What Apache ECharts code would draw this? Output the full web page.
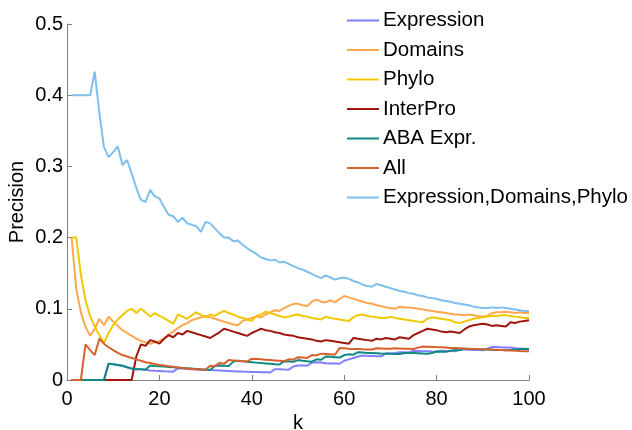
<!DOCTYPE html>
<html>
<head>
<meta charset="utf-8">
<script src="https://cdn.jsdelivr.net/npm/echarts@6/dist/echarts.min.js"></script>
<style>
html,body{margin:0;padding:0;background:#fff;}
#chart{width:632px;height:430px;}
</style>
</head>
<body>
<div id="chart"></div>
<script>
const seriesNames = ['Expression', 'Domains', 'Phylo', 'InterPro', 'ABA Expr.', 'All', 'Expression,Domains,Phylo'];
const xTicks = [0, 20, 40, 60, 80, 100];
const yTicks = [0, 0.1, 0.2, 0.3, 0.4, 0.5];

const expression = [
0,0,0,0,0,0,0,0,0.023,0.022,0.021,0.02,0.018,0.016,0.015,0.015,0.0144,0.0135,0.013,0.0127,
0.0123,0.012,0.0117,0.0165,0.016,0.0156,0.0152,0.0148,0.0145,0.0142,0.0139,0.0136,0.0133,0.013,0.0127,0.0124,0.0121,0.0118,0.0116,0.0114,
0.0112,0.011,0.0108,0.0106,0.0152,0.015,0.0147,0.0145,0.019,0.0205,0.0203,0.02,0.0245,0.025,0.0247,0.0235,0.0232,0.023,0.0228,0.027,
0.029,0.031,0.033,0.0345,0.034,0.0338,0.0335,0.0333,0.0375,0.0372,0.038,0.039,0.0388,0.0386,0.041,0.0408,0.0405,0.0403,0.04,0.0398,
0.041,0.0408,0.0406,0.0404,0.043,0.0428,0.0425,0.0423,0.042,0.0418,0.044,0.0465,0.0463,0.046,0.0458,0.0456,0.0445,0.0443,0.044,0.0435
];
const domains = [
0.2,0.128,0.095,0.075,0.062,0.072,0.086,0.077,0.089,0.082,0.076,0.07,0.066,0.062,0.058,0.055,0.053,0.051,0.053,0.055,
0.058,0.064,0.068,0.073,0.077,0.08,0.084,0.086,0.088,0.09,0.088,0.086,0.084,0.082,0.08,0.078,0.077,0.083,0.085,0.087,
0.089,0.088,0.092,0.095,0.098,0.097,0.101,0.104,0.107,0.107,0.105,0.104,0.11,0.113,0.11,0.109,0.112,0.109,0.114,0.118,
0.116,0.114,0.112,0.11,0.108,0.107,0.105,0.104,0.102,0.101,0.1,0.103,0.102,0.102,0.101,0.1,0.099,0.098,0.097,0.096,
0.095,0.094,0.093,0.092,0.092,0.091,0.092,0.091,0.09,0.089,0.09,0.094,0.095,0.095,0.096,0.095,0.094,0.095,0.094,0.094
];
const phylo = [
0.2,0.2,0.148,0.112,0.09,0.075,0.063,0.052,0.066,0.077,0.085,0.091,0.097,0.1,0.094,0.1,0.095,0.089,0.094,0.09,
0.087,0.083,0.079,0.092,0.089,0.086,0.091,0.095,0.091,0.088,0.092,0.09,0.094,0.097,0.094,0.092,0.089,0.087,0.085,0.083,
0.09,0.092,0.096,0.094,0.092,0.09,0.088,0.089,0.091,0.092,0.09,0.089,0.087,0.086,0.085,0.089,0.087,0.086,0.085,0.084,
0.083,0.088,0.091,0.092,0.09,0.089,0.088,0.087,0.087,0.089,0.087,0.086,0.085,0.084,0.083,0.082,0.081,0.086,0.088,0.087,
0.086,0.085,0.084,0.081,0.08,0.082,0.084,0.086,0.087,0.088,0.089,0.09,0.09,0.091,0.091,0.09,0.089,0.088,0.087,0.087
];
const interPro = [
0,0,0,0,0,0,0,0,0,0,0,0,0,0,0.033,0.05,0.048,0.056,0.054,0.051,
0.058,0.063,0.06,0.066,0.064,0.069,0.067,0.065,0.063,0.061,0.059,0.063,0.067,0.072,0.07,0.068,0.066,0.064,0.062,0.066,
0.069,0.072,0.07,0.069,0.067,0.066,0.064,0.063,0.062,0.06,0.059,0.058,0.057,0.055,0.054,0.056,0.055,0.054,0.053,0.052,
0.051,0.059,0.058,0.057,0.056,0.055,0.058,0.057,0.059,0.058,0.057,0.06,0.059,0.058,0.063,0.066,0.069,0.072,0.071,0.07,
0.068,0.067,0.068,0.067,0.066,0.071,0.075,0.077,0.078,0.079,0.078,0.076,0.077,0.076,0.075,0.081,0.08,0.082,0.083,0.084
];
const abaExpr = [
0,0,0,0,0,0,0,0,0.023,0.022,0.021,0.02,0.018,0.016,0.015,0.015,0.0144,0.0204,0.0198,0.0193,
0.0188,0.0183,0.0178,0.0174,0.017,0.0166,0.016,0.0155,0.015,0.0146,0.0142,0.02,0.0205,0.02,0.0195,0.0258,0.027,0.0262,0.0255,0.025,
0.0244,0.0238,0.0233,0.0228,0.0222,0.0218,0.0265,0.026,0.0255,0.028,0.027,0.0262,0.0257,0.029,0.0285,0.033,0.0325,0.032,0.0315,0.035,
0.036,0.0355,0.039,0.0385,0.038,0.0378,0.0375,0.0372,0.037,0.0368,0.0366,0.0365,0.038,0.038,0.0378,0.0375,0.0372,0.037,0.038,0.04,
0.0398,0.0395,0.041,0.042,0.0418,0.044,0.0437,0.0435,0.0432,0.043,0.0428,0.0425,0.0423,0.042,0.0418,0.0423,0.043,0.0433,0.0434,0.0435
];
const allFeat = [
0,0,0,0.05,0.042,0.035,0.058,0.051,0.046,0.042,0.038,0.035,0.033,0.031,0.029,0.027,0.025,0.024,0.0225,0.021,
0.0204,0.0195,0.0185,0.0177,0.017,0.0163,0.0157,0.0152,0.0148,0.0145,0.02,0.019,0.024,0.023,0.028,0.0275,0.027,0.0265,0.026,0.03,
0.0295,0.029,0.0285,0.028,0.0275,0.027,0.0265,0.029,0.0285,0.032,0.0315,0.031,0.035,0.0345,0.037,0.0365,0.036,0.0355,0.045,0.0445,
0.044,0.0437,0.0435,0.0432,0.043,0.0428,0.0445,0.0443,0.044,0.0438,0.0445,0.0443,0.044,0.0438,0.0436,0.0455,0.047,0.0468,0.0465,0.0462,
0.046,0.0455,0.045,0.0448,0.0445,0.0442,0.044,0.0437,0.0434,0.0432,0.043,0.0427,0.0424,0.0421,0.0418,0.0413,0.041,0.0407,0.0405,0.0405
];
const exprDomPhylo = [
0.4,0.4,0.4,0.4,0.4,0.433,0.375,0.327,0.313,0.32,0.328,0.302,0.309,0.29,0.27,0.253,0.25,0.267,0.258,0.255,
0.243,0.232,0.23,0.222,0.228,0.22,0.218,0.216,0.208,0.222,0.22,0.213,0.206,0.2,0.2,0.195,0.196,0.19,0.185,0.181,
0.177,0.172,0.17,0.168,0.169,0.165,0.166,0.163,0.16,0.157,0.155,0.152,0.149,0.146,0.143,0.147,0.144,0.141,0.143,0.144,
0.142,0.139,0.137,0.134,0.132,0.131,0.135,0.133,0.131,0.129,0.127,0.125,0.124,0.122,0.121,0.119,0.118,0.116,0.115,0.114,
0.112,0.111,0.11,0.108,0.107,0.106,0.105,0.103,0.102,0.101,0.101,0.102,0.101,0.102,0.101,0.1,0.099,0.098,0.097,0.097
];

const seriesValues = [expression, domains, phylo, interPro, abaExpr, allFeat, exprDomPhylo];
const colors = ['#8080ff', '#ffa650', '#f0c800', '#a0160e', '#0c8a82', '#d8602c', '#7fbfee'];

const font = 'Liberation Sans, Arial, Helvetica, sans-serif';
const chart = echarts.init(document.getElementById('chart'), null, {renderer: 'canvas'});
chart.setOption({
  animation: false,
  backgroundColor: '#ffffff',
  textStyle: {fontFamily: font},
  grid: {left: 67, right: 103, top: 24, bottom: 50, containLabel: false, outerBoundsMode: 'none'},
  legend: {
    orient: 'vertical',
    left: 342,
    top: 5,
    itemWidth: 32,
    itemHeight: 2,
    itemGap: 8.5,
    icon: 'rect',
    textStyle: {fontSize: 20.5, color: '#000', fontFamily: font, lineHeight: 20, padding: [0, 0, 0, -1]},
    data: seriesNames
  },
  xAxis: {
    type: 'value',
    min: xTicks[0], max: xTicks[xTicks.length - 1], interval: 20,
    name: 'k', nameLocation: 'middle', nameGap: 33, nameMoveOverlap: false,
    nameTextStyle: {fontSize: 20, color: '#000', fontFamily: font},
    axisLine: {lineStyle: {color: '#808080', width: 1}},
    axisTick: {inside: true, length: 5, lineStyle: {color: '#808080'}},
    axisLabel: {fontSize: 20, color: '#000', margin: 9, fontFamily: font},
    splitLine: {show: false}
  },
  yAxis: {
    type: 'value',
    min: yTicks[0], max: yTicks[yTicks.length - 1], interval: 0.1,
    name: 'Precision', nameLocation: 'middle', nameGap: 40, nameMoveOverlap: false,
    nameTextStyle: {fontSize: 20, color: '#000', fontFamily: font},
    axisLine: {show: true, lineStyle: {color: '#808080', width: 1}},
    axisTick: {show: true, inside: true, length: 5, lineStyle: {color: '#808080'}},
    axisLabel: {fontSize: 20, color: '#000', margin: 4, fontFamily: font},
    splitLine: {show: false}
  },
  series: seriesNames.map((name, i) => ({
    name: name,
    type: 'line',
    symbol: 'none',
    color: colors[i],
    lineStyle: {width: 2, color: colors[i]},
    data: seriesValues[i].map((v, j) => [j + 1, v])
  }))
});
</script>
</body>
</html>
